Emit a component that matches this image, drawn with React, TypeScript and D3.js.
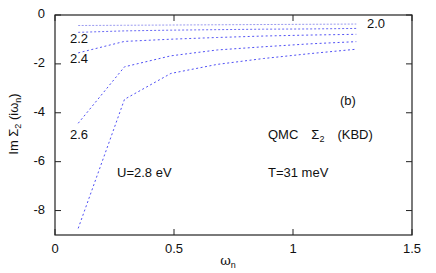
import { useRef, useEffect } from 'react';
import * as d3 from 'd3';

// Matsubara frequencies, T = 31 meV
const omegaN = [0.0974, 0.292, 0.487, 0.682, 0.876, 1.071, 1.266];

const series20 = [-0.43, -0.42, -0.41, -0.4, -0.39, -0.38, -0.37];
const series22 = [-0.71, -0.65, -0.62, -0.6, -0.58, -0.57, -0.55];
const series24 = [-1.55, -1.08, -0.99, -0.92, -0.86, -0.82, -0.79];
const series26 = [-4.43, -2.12, -1.67, -1.43, -1.3, -1.18, -1.09];
const series28 = [-8.73, -3.45, -2.39, -2.02, -1.78, -1.58, -1.4];

const xTicks = [0, 0.5, 1, 1.5];
const yTicks = [0, -2, -4, -6, -8];

const W = 436;
const H = 273;

export default function App() {
  const svgRef = useRef<SVGSVGElement>(null);

  useEffect(() => {
    if (!svgRef.current) return;
    const svg = d3.select(svgRef.current);
    svg.selectAll('*').remove();

    const margin = { top: 15, right: 24, bottom: 38, left: 55 };
    const x = d3.scaleLinear().domain([0, 1.5]).range([margin.left, W - margin.right]);
    const y = d3.scaleLinear().domain([-9, 0]).range([H - margin.bottom, margin.top]);
    const font = 'Liberation Sans, Arial, sans-serif';
    const fs = '13px';

    // Curves
    const line = d3
      .line<number>()
      .x((_, i) => x(omegaN[i]))
      .y((d) => y(d));

    const all = [
      { v: series20, c: '#9b9bf0', dash: '2,1.5' },
      { v: series22, c: '#6a6af5', dash: '2,2' },
      { v: series24, c: '#5555f5', dash: '2,2.5' },
      { v: series26, c: '#5050f5', dash: '2,2.5' },
      { v: series28, c: '#5050f5', dash: '2,2.5' },
    ];
    all.forEach((s) => {
      svg
        .append('path')
        .attr('d', line(s.v))
        .attr('fill', 'none')
        .attr('stroke', s.c)
        .attr('stroke-width', 1)
        .attr('stroke-dasharray', s.dash);
    });

    // Frame
    svg
      .append('rect')
      .attr('x', x(0))
      .attr('y', y(0))
      .attr('width', x(1.5) - x(0))
      .attr('height', y(-9) - y(0))
      .attr('fill', 'none')
      .attr('stroke', '#222')
      .attr('stroke-width', 1.2);

    // Ticks (inward, mirrored)
    const tl = 6;
    xTicks.forEach((t) => {
      svg.append('line').attr('x1', x(t)).attr('x2', x(t)).attr('y1', y(-9)).attr('y2', y(-9) - tl).attr('stroke', '#222');
      svg.append('line').attr('x1', x(t)).attr('x2', x(t)).attr('y1', y(0)).attr('y2', y(0) + tl).attr('stroke', '#222');
      svg
        .append('text')
        .attr('x', x(t))
        .attr('y', y(-9) + 18)
        .attr('text-anchor', 'middle')
        .attr('font-family', font)
        .attr('font-size', fs)
        .attr('fill', '#111')
        .text(String(t));
    });
    yTicks.forEach((t) => {
      svg.append('line').attr('x1', x(0)).attr('x2', x(0) + tl).attr('y1', y(t)).attr('y2', y(t)).attr('stroke', '#222');
      svg.append('line').attr('x1', x(1.5)).attr('x2', x(1.5) - tl).attr('y1', y(t)).attr('y2', y(t)).attr('stroke', '#222');
      svg
        .append('text')
        .attr('x', x(0) - 10)
        .attr('y', y(t))
        .attr('text-anchor', 'end')
        .attr('dominant-baseline', 'middle')
        .attr('font-family', font)
        .attr('font-size', fs)
        .attr('fill', '#111')
        .text(t === 0 ? '0' : String(t));
    });

    // Axis titles
    const xl = svg
      .append('text')
      .attr('x', 228)
      .attr('y', 265)
      .attr('text-anchor', 'middle')
      .attr('font-family', 'DejaVu Serif, serif')
      .attr('font-size', fs)
      .attr('fill', '#111');
    xl.append('tspan').text('ω');
    xl.append('tspan').attr('font-size', '9px').attr('dy', 3).attr('font-family', font).text('n');

    const yl = svg
      .append('text')
      .attr('transform', `translate(18,124) rotate(-90)`)
      .attr('text-anchor', 'middle')
      .attr('font-family', font)
      .attr('font-size', fs)
      .attr('fill', '#111');
    yl.append('tspan').text('Im Σ');
    yl.append('tspan').attr('font-size', '9px').attr('dy', 3).text('2');
    yl.append('tspan').attr('dy', -3).text(' (iω');
    yl.append('tspan').attr('font-size', '9px').attr('dy', 3).text('n');
    yl.append('tspan').attr('dy', -3).text(')');

    // Annotations
    const label = (tx: number, ty: number, s: string) =>
      svg
        .append('text')
        .attr('x', tx)
        .attr('y', ty)
        .attr('dominant-baseline', 'middle')
        .attr('font-family', font)
        .attr('font-size', fs)
        .attr('fill', '#111')
        .text(s);
    label(367, 25, '2.0');
    label(70, 40, '2.2');
    label(70, 60, '2.4');
    label(70, 136, '2.6');
    label(340, 102, '(b)');
    label(117, 174, 'U=2.8 eV');
    label(268, 174, 'T=31 meV');

    const q = svg
      .append('text')
      .attr('x', 268)
      .attr('y', 139)
      .attr('font-family', font)
      .attr('font-size', fs)
      .attr('fill', '#111');
    q.append('tspan').text('QMC');
    q.append('tspan').attr('dx', 13).text('Σ');
    q.append('tspan').attr('font-size', '9px').attr('dy', 3).text('2');
    q.append('tspan').attr('dy', -3).attr('dx', 13).text('(KBD)');
  }, []);

  return (
    <svg
      ref={svgRef}
      width={W}
      height={H}
      style={{ position: 'absolute', left: 0, top: 0, background: '#fff' }}
    />
  );
}
